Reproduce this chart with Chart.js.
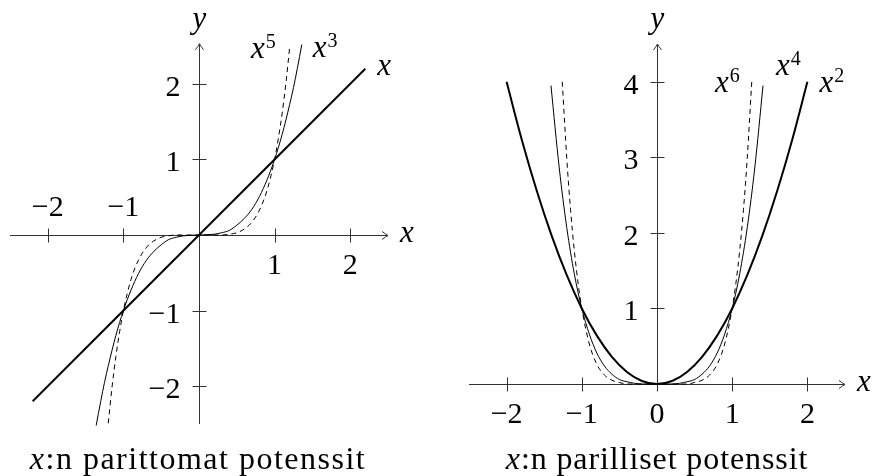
<!DOCTYPE html>
<html>
<head>
<meta charset="utf-8">
<script src="https://cdn.jsdelivr.net/npm/chart.js@4.4.0/dist/chart.umd.min.js"></script>
<style>
  html, body { margin: 0; padding: 0; background: #fff; }
  #wrap { position: relative; width: 876px; height: 476px; overflow: hidden; }
  canvas { position: absolute; top: 0; }
  .kuvateksti {
    position: absolute; top: 443px; width: 438px; text-align: center;
    font-family: 'Liberation Serif', serif; font-size: 32px; line-height: 30px;
    letter-spacing: 1.5px; color: #000;
  }
</style>
</head>
<body>
<div id="wrap">
  <canvas id="parittomat" width="438" height="476" style="left:0"></canvas>
  <canvas id="parilliset" width="438" height="476" style="left:438px"></canvas>
  <div class="kuvateksti" style="left:-21px"><i>x</i>:n parittomat potenssit</div>
  <div class="kuvateksti" style="left:438px; letter-spacing:0.9px"><i>x</i>:n parilliset potenssit</div>
</div>
<script>
// Parittomat potenssit: x, x^3, x^5
const xSuora = [-2.2, 2.2];
const ySuora = [-2.2, 2.2];
const xKuutio = [-1.36, -1.3, -1.25, -1.2, -1.1, -1, -0.9, -0.8, -0.7, -0.6, -0.5, -0.4, -0.3, -0.2, 0, 0.2, 0.3, 0.4, 0.5, 0.6, 0.7, 0.8, 0.9, 1, 1.1, 1.2, 1.25, 1.3, 1.36];
const yKuutio = [-2.52, -2.2, -1.95, -1.73, -1.33, -1, -0.73, -0.51, -0.34, -0.22, -0.13, -0.06, -0.03, -0.01, 0, 0.01, 0.03, 0.06, 0.13, 0.22, 0.34, 0.51, 0.73, 1, 1.33, 1.73, 1.95, 2.2, 2.52];
const xViides = [-1.2, -1.15, -1.1, -1.05, -1, -0.9, -0.8, -0.7, -0.6, -0.5, -0.4, -0.3, 0, 0.3, 0.4, 0.5, 0.6, 0.7, 0.8, 0.9, 1, 1.05, 1.1, 1.15, 1.2];
const yViides = [-2.49, -2.01, -1.61, -1.28, -1, -0.59, -0.33, -0.17, -0.08, -0.03, -0.01, 0, 0, 0, 0.01, 0.03, 0.08, 0.17, 0.33, 0.59, 1, 1.28, 1.61, 2.01, 2.49];

// Parilliset potenssit: x^2, x^4, x^6
const xToinen = [-2, -1.8, -1.6, -1.4, -1.2, -1, -0.8, -0.6, -0.4, -0.2, 0, 0.2, 0.4, 0.6, 0.8, 1, 1.2, 1.4, 1.6, 1.8, 2];
const yToinen = [4, 3.24, 2.56, 1.96, 1.44, 1, 0.64, 0.36, 0.16, 0.04, 0, 0.04, 0.16, 0.36, 0.64, 1, 1.44, 1.96, 2.56, 3.24, 4];
const xNeljas = [-1.41, -1.3, -1.2, -1.1, -1, -0.9, -0.8, -0.7, -0.6, -0.5, -0.4, -0.2, 0, 0.2, 0.4, 0.5, 0.6, 0.7, 0.8, 0.9, 1, 1.1, 1.2, 1.3, 1.41];
const yNeljas = [3.95, 2.86, 2.07, 1.46, 1, 0.66, 0.41, 0.24, 0.13, 0.06, 0.03, 0, 0, 0, 0.03, 0.06, 0.13, 0.24, 0.41, 0.66, 1, 1.46, 2.07, 2.86, 3.95];
const xKuudes = [-1.26, -1.2, -1.15, -1.1, -1.05, -1, -0.9, -0.8, -0.7, -0.6, -0.5, -0.4, 0, 0.4, 0.5, 0.6, 0.7, 0.8, 0.9, 1, 1.05, 1.1, 1.15, 1.2, 1.26];
const yKuudes = [4, 2.99, 2.31, 1.77, 1.34, 1, 0.53, 0.26, 0.12, 0.05, 0.02, 0, 0, 0, 0.02, 0.05, 0.12, 0.26, 0.53, 1, 1.34, 1.77, 2.31, 2.99, 4];

// Akseleiden jakoviivat ja niiden tekstit
const paritonJakoX = [-2, -1, 1, 2];
const paritonTekstiX = ['−2', '−1', '1', '2'];
const paritonJakoY = [-2, -1, 1, 2];
const paritonTekstiY = ['−2', '−1', '1', '2'];
const parillinenJakoX = [-2, -1, 0, 1, 2];
const parillinenTekstiX = ['−2', '−1', '0', '1', '2'];
const parillinenJakoY = [1, 2, 3, 4];
const parillinenTekstiY = ['1', '2', '3', '4'];

const FONTTI = "'Liberation Serif', serif";

function pisteet(xs, ys) {
    return xs.map((x, i) => ({ x: x, y: ys[i] }));
}

function kayra(xs, ys, paksuus, katko) {
    return {
        data: pisteet(xs, ys),
        showLine: true,
        borderColor: '#000',
        borderWidth: paksuus,
        borderDash: katko ? [5, 4] : [],
        pointRadius: 0,
        cubicInterpolationMode: 'monotone',
        clip: false
    };
}

function nuoli(ctx, x, y, suunta) {
    // TikZ-tyylinen kärki: dx,dy osoittaa kärjen suunnan
    const [dx, dy] = suunta;
    const px = -dy, py = dx;
    ctx.beginPath();
    ctx.moveTo(x - 6 * dx + 4 * px, y - 6 * dy + 4 * py);
    ctx.quadraticCurveTo(x - 2 * dx + 1 * px, y - 2 * dy + 1 * py, x, y);
    ctx.quadraticCurveTo(x - 2 * dx - 1 * px, y - 2 * dy - 1 * py, x - 6 * dx - 4 * px, y - 6 * dy - 4 * py);
    ctx.stroke();
}

function potenssi(ctx, x, y, eksp, tasaus) {
    ctx.font = 'italic 31px ' + FONTTI;
    const lev1 = ctx.measureText('x').width;
    ctx.font = '20px ' + FONTTI;
    const lev2 = eksp ? ctx.measureText(eksp).width + 1 : 0;
    let vasen = tasaus === 'right' ? x - lev1 - lev2 : x;
    ctx.textAlign = 'left';
    ctx.textBaseline = 'alphabetic';
    ctx.font = 'italic 31px ' + FONTTI;
    ctx.fillText('x', vasen, y);
    if (eksp) {
        ctx.font = '20px ' + FONTTI;
        ctx.fillText(eksp, vasen + lev1 + 1, y - 10);
    }
}

const akselit = {
    id: 'akselit',
    beforeDatasetsDraw(chart, args, o) {
        const ctx = chart.ctx;
        const xs = chart.scales.x, ys = chart.scales.y;
        const x0 = Math.round(xs.getPixelForValue(0)) + 0.5;
        const y0 = Math.round(ys.getPixelForValue(0)) + 0.5;
        ctx.save();
        ctx.strokeStyle = '#333';
        ctx.lineWidth = 1;
        // vaaka-akseli
        const xa = xs.getPixelForValue(o.xAkseli[0]), xb = xs.getPixelForValue(o.xAkseli[1]);
        ctx.beginPath(); ctx.moveTo(xa, y0); ctx.lineTo(xb, y0); ctx.stroke();
        nuoli(ctx, xb, y0, [1, 0]);
        // pystyakseli
        const ya = ys.getPixelForValue(o.yAkseli[0]), yb = ys.getPixelForValue(o.yAkseli[1]);
        ctx.beginPath(); ctx.moveTo(x0, ya); ctx.lineTo(x0, yb); ctx.stroke();
        nuoli(ctx, x0, yb, [0, -1]);
        // jakoviivat
        ctx.beginPath();
        o.jakoX.forEach(v => {
            const p = Math.round(xs.getPixelForValue(v)) + 0.5;
            ctx.moveTo(p, y0 - 7); ctx.lineTo(p, y0 + 7);
        });
        o.jakoY.forEach(v => {
            const p = Math.round(ys.getPixelForValue(v)) + 0.5;
            ctx.moveTo(x0 - 7, p); ctx.lineTo(x0 + 7, p);
        });
        ctx.stroke();
        // lukuarvot
        ctx.fillStyle = '#000';
        ctx.font = '30px ' + FONTTI;
        ctx.textBaseline = 'alphabetic';
        ctx.textAlign = 'center';
        o.jakoX.forEach((v, i) => {
            const p = xs.getPixelForValue(v);
            const ylos = o.negatiivisetYlos && v < 0;
            ctx.fillText(o.tekstiX[i], p, ylos ? y0 - 20 : y0 + 38);
        });
        ctx.textAlign = 'right';
        o.jakoY.forEach((v, i) => {
            const p = ys.getPixelForValue(v);
            ctx.fillText(o.tekstiY[i], x0 - 19, p + 12);
        });
        // akseleiden nimet
        ctx.textAlign = 'left';
        ctx.font = 'italic 31px ' + FONTTI;
        ctx.fillText('x', xb + 12, y0 + 6);
        ctx.textAlign = 'center';
        ctx.fillText('y', x0, 28);
        ctx.restore();
    },
    afterDatasetsDraw(chart, args, o) {
        const ctx = chart.ctx;
        ctx.save();
        ctx.fillStyle = '#000';
        o.nimet.forEach(n => {
            const meta = chart.getDatasetMeta(n.sarja);
            const viim = meta.data[meta.data.length - 1];
            potenssi(ctx, viim.x + n.dx, viim.y + n.dy, n.eksp, n.tasaus);
        });
        ctx.restore();
    }
};

function asetukset(xMin, xMax, yMin, yMax, reunat, akseliOpt) {
    return {
        responsive: false,
        animation: false,
        layout: { padding: reunat },
        plugins: {
            legend: { display: false },
            tooltip: { enabled: false },
            akselit: akseliOpt
        },
        scales: {
            x: { type: 'linear', min: xMin, max: xMax, display: false },
            y: { type: 'linear', min: yMin, max: yMax, display: false }
        }
    };
}

new Chart(document.getElementById('parittomat'), {
    type: 'scatter',
    data: {
        datasets: [
            kayra(xSuora, ySuora, 2, false),
            kayra(xKuutio, yKuutio, 1, false),
            kayra(xViides, yViides, 1, true)
        ]
    },
    options: asetukset(-2.5, 2.5, -2.5, 2.5, { left: 10, right: 50, top: 46, bottom: 52 }, {
        xAkseli: [-2.5, 2.5],
        yAkseli: [-2.5, 2.53],
        jakoX: paritonJakoX, tekstiX: paritonTekstiX,
        jakoY: paritonJakoY, tekstiY: paritonTekstiY,
        negatiivisetYlos: true,
        nimet: [
            { sarja: 0, eksp: '', dx: 12, dy: 6, tasaus: 'left' },
            { sarja: 1, eksp: '3', dx: 11, dy: 13, tasaus: 'left' },
            { sarja: 2, eksp: '5', dx: -14, dy: 11, tasaus: 'right' }
        ]
    }),
    plugins: [akselit]
});

new Chart(document.getElementById('parilliset'), {
    type: 'scatter',
    data: {
        datasets: [
            kayra(xToinen, yToinen, 2, false),
            kayra(xNeljas, yNeljas, 1, false),
            kayra(xKuudes, yKuudes, 1, true)
        ]
    },
    options: asetukset(-2.5, 2.5, 0, 4.5, { left: 31, right: 31, top: 44, bottom: 92 }, {
        xAkseli: [-2.5, 2.5],
        yAkseli: [0, 4.5],
        jakoX: parillinenJakoX, tekstiX: parillinenTekstiX,
        jakoY: parillinenJakoY, tekstiY: parillinenTekstiY,
        negatiivisetYlos: false,
        nimet: [
            { sarja: 0, eksp: '2', dx: 12, dy: 10, tasaus: 'left' },
            { sarja: 1, eksp: '4', dx: 13, dy: -11, tasaus: 'left' },
            { sarja: 2, eksp: '6', dx: -12, dy: 10, tasaus: 'right' }
        ]
    }),
    plugins: [akselit]
});
</script>
</body>
</html>
